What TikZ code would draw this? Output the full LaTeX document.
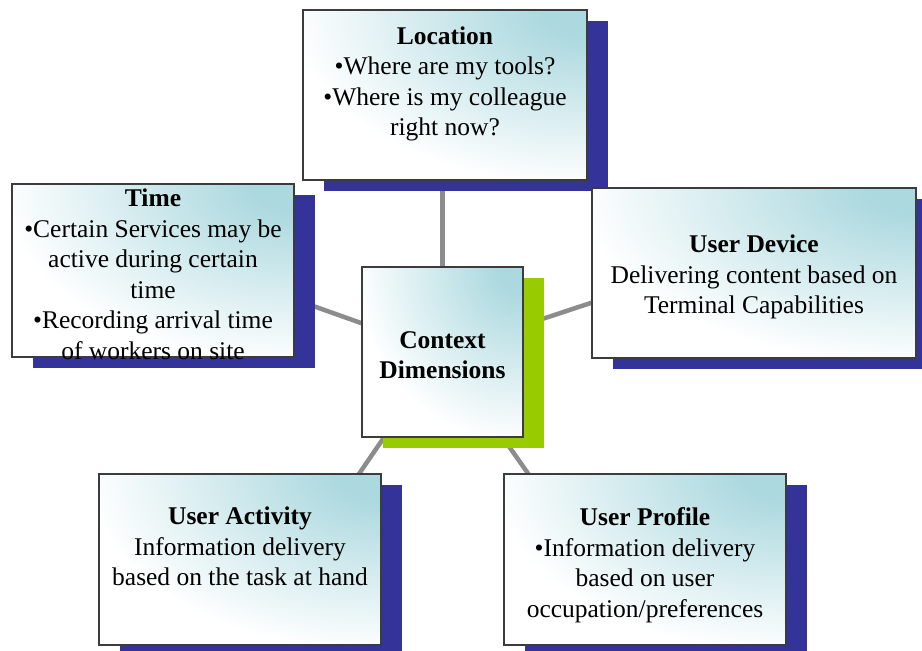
\documentclass[tikz,border=0pt]{standalone}
\usepackage{fontspec}
\setmainfont{Liberation Serif}
\usetikzlibrary{shadows,backgrounds,calc}

\definecolor{panelteal}{RGB}{172,217,223}
\definecolor{shadowblue}{RGB}{51,51,153}
\definecolor{hubgreen}{RGB}{153,204,0}
\definecolor{edgegray}{RGB}{60,60,60}
\definecolor{linkgray}{RGB}{140,140,140}

% glow that fades from teal at the centre to white a short way out
\pgfdeclareradialshading{panelglow}{\pgfpointorigin}{%
  color(0bp)=(panelteal); color(2bp)=(panelteal);
  color(13bp)=(white); color(50bp)=(white)}

\begin{document}
\begin{tikzpicture}[x=1pt,y=-1pt,
  panelbase/.style={draw=edgegray, line width=1.6pt, inner sep=0pt, fill=white,
    path picture={
      \shade[shading=panelglow]
        let \p1=($(path picture bounding box.north east)-(path picture bounding box.south west)$) in
        (path picture bounding box.north east) ellipse [x radius=2*\x1, y radius=2*\y1];
    }},
  panel/.style={panelbase,
    general shadow={fill=shadowblue, shadow xshift=21pt, shadow yshift=-11pt}},
  hubpanel/.style={panelbase,
    general shadow={fill=hubgreen, shadow xshift=21pt, shadow yshift=-11pt}},
  caption/.style={align=center, inner sep=0pt,
    font=\fontsize{25.5}{30.5}\selectfont},
  link/.style={draw=linkgray, line width=4.5pt}]

\useasboundingbox (0,0) rectangle (922,651);
\clip (0,0) rectangle (922,651);

% the five dimension panels and the central hub
\node[panel, minimum width=284, minimum height=170] (loc) at (445,95) {};
\node[panel, minimum width=282, minimum height=173] (time) at (153,270.5) {};
\node[panel, minimum width=324, minimum height=170] (dev) at (754,273) {};
\node[panel, minimum width=282, minimum height=171] (act) at (240,559.5) {};
\node[panel, minimum width=282, minimum height=171] (prof) at (645,559.5) {};
\node[hubpanel, minimum width=161, minimum height=170] (ctx) at (442.5,352) {};

% panel texts
\node[caption] (loctext) at ($(loc.center)+(0,-11)$)
  {\textbf{Location}\\•Where are my tools?\\•Where is my colleague\\right now?};
\node[caption] (timetext) at ($(time.center)+(0,4)$)
  {\textbf{Time}\\•Certain Services may be\\active during certain\\time\\•Recording arrival time\\of workers on site};
\node[caption] (devtext) at ($(dev.center)+(0,4)$)
  {\textbf{User Device}\\Delivering content based on\\Terminal Capabilities};
\node[caption] (acttext) at ($(act.center)+(0,-13)$)
  {\textbf{User Activity}\\Information delivery\\based on the task at hand};
\node[caption] (proftext) at ($(prof.center)+(0,5.5)$)
  {\textbf{User Profile}\\•Information delivery\\based on user\\occupation/preferences};
\node[caption] (ctxtext) at ($(ctx.center)+(0,3)$)
  {\textbf{Context}\\\textbf{Dimensions}};

% spokes from the hub, drawn behind everything
\begin{scope}[on background layer]
  \coordinate (timehub) at (153,249);
  \coordinate (devhub) at (754,249);
  \coordinate (acthub) at (300,560);
  \coordinate (profhub) at (589,560);
  \draw[link] (ctx.center) -- (ctx.center |- loc.center);
  \draw[link] (ctx.center) -- (timehub);
  \draw[link] (ctx.center) -- (devhub);
  \draw[link] (ctx.center) -- (acthub);
  \draw[link] (ctx.center) -- (profhub);
\end{scope}
\end{tikzpicture}
\end{document}
